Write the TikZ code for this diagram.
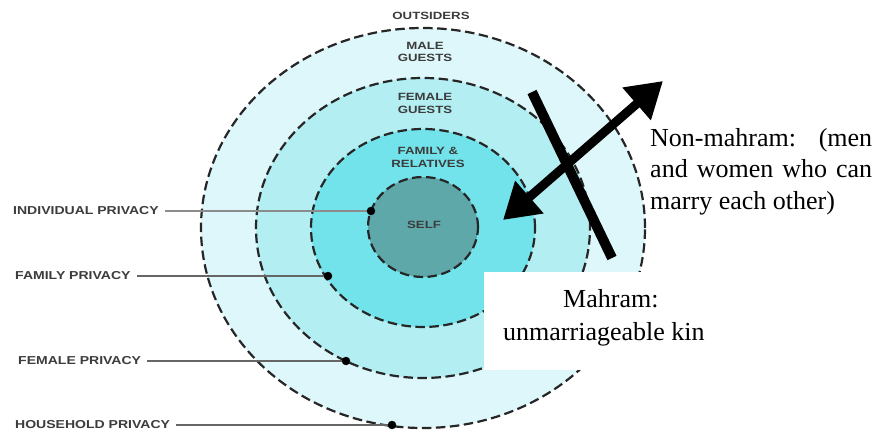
\documentclass[tikz,border=0pt]{standalone}
\usepackage{fontspec}
\setmainfont{Liberation Serif}
\newfontfamily\lblfont{Liberation Sans}
\usetikzlibrary{arrows.meta}
\definecolor{ringA}{HTML}{DDF7FA}
\definecolor{ringB}{HTML}{B3EEF3}
\definecolor{ringC}{HTML}{72E3EA}
\definecolor{selfc}{HTML}{5FA8AA}
\definecolor{lblgray}{HTML}{3C3C3C}
\newcommand{\widetxt}[1]{\scalebox{1.22}[1]{#1}}
\newcommand{\ringtxt}[1]{\scalebox{1.26}[1]{#1}}
\begin{document}
\begin{tikzpicture}[x=1pt,y=-1pt,
  ring/.style={draw=black!85, line width=2.2pt, dash pattern=on 9.5pt off 4.5pt},
  sidelbl/.style={font=\lblfont\bfseries\fontsize{11.5}{11.5}\selectfont, text=lblgray, inner sep=0pt, anchor=west},
  ringlbl/.style={font=\lblfont\bfseries\fontsize{10.5}{12.5}\selectfont, text=lblgray, inner sep=0pt, align=center},
  leader/.style={draw=black!60, line width=1.3pt},
  dotc/.style={circle, fill=black, draw=black, inner sep=0pt, minimum size=8pt},
  bigarrow/.style={line width=9pt, {Triangle[length=35pt,width=41pt]}-{Triangle[length=35pt,width=41pt]}},
  crossbar/.style={line width=10pt, line cap=butt},
  serif/.style={font=\fontsize{26}{31}\selectfont, text=black, inner sep=0pt, anchor=base west}
]
\useasboundingbox (0,0) rectangle (890,435);
\fill[white] (0,0) rectangle (890,435);

% fills
\fill[ringA] (423,228) ellipse [x radius=222pt, y radius=200pt];
\fill[ringB] (423,228) ellipse [x radius=167pt, y radius=150pt];
\fill[ringC] (423,228) ellipse [x radius=112pt, y radius=99pt];
\fill[selfc] (423,227) ellipse [x radius=55pt, y radius=50pt];

% dashed outlines
\draw[ring] (423,228) ellipse [x radius=222pt, y radius=200pt];
\draw[ring] (423,228) ellipse [x radius=167pt, y radius=150pt];
\draw[ring] (423,228) ellipse [x radius=112pt, y radius=99pt];
\draw[ring] (423,227) ellipse [x radius=55pt, y radius=50pt];

% ring labels
\node[ringlbl] (outs) at (431,16) {\ringtxt{OUTSIDERS}};
\node[ringlbl] (male) at (425,52) {\ringtxt{MALE}\\\ringtxt{GUESTS}};
\node[ringlbl] (fem) at (425,103.5) {\ringtxt{FEMALE}\\\ringtxt{GUESTS}};
\node[ringlbl] (fam) at (428,157.5) {\ringtxt{FAMILY \&}\\\ringtxt{RELATIVES}};
\node[ringlbl] (self) at (424,225) {\ringtxt{SELF}};

% side labels with leaders
\node[sidelbl] (lind) at (13,211) {\widetxt{INDIVIDUAL PRIVACY}};
\node[sidelbl] (lfam) at (15,276) {\widetxt{FAMILY PRIVACY}};
\node[sidelbl] (lfem) at (18,361) {\widetxt{FEMALE PRIVACY}};
\node[sidelbl] (lhou) at (15,425) {\widetxt{HOUSEHOLD PRIVACY}};
\coordinate (cind) at (371,211);
\coordinate (cfam) at (328,276);
\coordinate (cfem) at (346,361);
\coordinate (chou) at (392,425);
\draw[leader, draw=black!45] ([xshift=6pt]lind.east) -- (cind);
\draw[leader] ([xshift=6pt]lfam.east) -- (cfam);
\draw[leader] ([xshift=6pt]lfem.east) -- (cfem);
\draw[leader] ([xshift=6pt]lhou.east) -- (chou);
\node[dotc] (dind) at (cind) {};
\node[dotc] (dfam) at (cfam) {};
\node[dotc] (dfem) at (cfem) {};
\node[dotc] (dhou) at (chou) {};

% white box for Mahram text
\node[fill=white, inner sep=0pt, minimum width=246pt, minimum height=98pt, anchor=north west] (mbox) at (484,272) {};
\node[serif] (mah1) at (563,307) {Mahram:};
\node[serif] (mah2) at (503,340) {unmarriageable kin};

% arrows
\coordinate (tipA) at (503,220);
\coordinate (tipB) at (663,81);
\coordinate (barA) at (532,92);
\coordinate (barB) at (612,258);
\draw[crossbar] (barA) -- (barB);
\draw[bigarrow] (tipA) -- (tipB);

% non-mahram text
\node[serif] (nm1) at (650,147) {\makebox[222pt][l]{Non-mahram:\hfill(men}};
\node[serif] (nm2) at (650,178) {\makebox[222pt][s]{and women who can}};
\node[serif] (nm3) at (650,210) {marry each other)};
\end{tikzpicture}
\end{document}
